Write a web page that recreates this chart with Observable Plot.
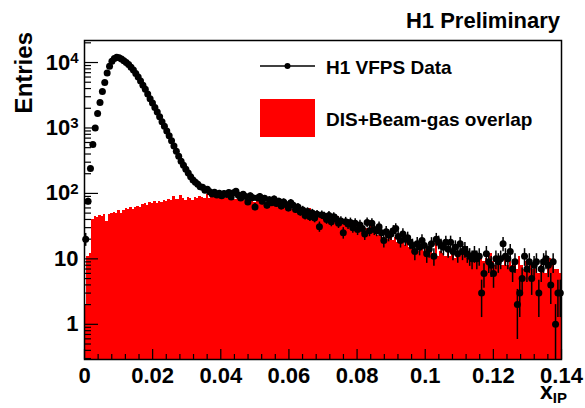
<!DOCTYPE html>
<html><head><meta charset="utf-8">
<script src="https://cdn.jsdelivr.net/npm/d3@7"></script>
<script src="https://cdn.jsdelivr.net/npm/@observablehq/plot@0.6"></script>
<style>
html,body{margin:0;padding:0;background:#fff;}
#chart{width:585px;height:408px;overflow:hidden;}
</style></head><body><div id="chart"></div>
<script>
// ---- data ----
const binWidth = 0.0007;
const dataCounts = [
 20, 76, 240, 560, 1000, 1660, 2450, 3600, 4950, 6900,
 8800, 10500, 11500, 12000, 11800, 11300, 10600, 10000, 9300, 8500,
 7700, 6800, 6000, 5200, 4500, 3900, 3300, 2800, 2400, 2050,
 1750, 1480, 1250, 1060, 900, 760, 640, 530, 440, 370,
 310, 270, 235, 205, 180, 160, 148, 138, 126, 124,
 112, 116, 106, 98, 104, 95, 101, 92, 100, 96,
 103, 88, 102, 108, 94, 85, 97, 90, 74, 92,
 86, 62, 85, 90, 76, 84, 66, 80, 72, 82,
 70, 76, 64, 74, 68, 60, 72, 66, 57, 62,
 52, 56, 46, 53, 44, 50, 42, 48, 31, 47,
 45, 40, 46, 37, 44, 41, 35, 38, 25, 37,
 34, 36, 30, 35, 28, 33, 29, 24, 36, 27,
 35, 28, 27, 31, 25, 19, 26, 23, 24, 27,
 29, 22, 19, 24, 20, 21, 18, 16, 13, 17,
 15, 19, 16, 12, 14, 17, 11, 20, 18, 16,
 15, 18, 14, 18, 13, 15, 12, 17, 13, 14,
 12, 11, 10, 12, 10, 11, 3, 6, 12, 9,
 8, 6, 10, 9, 10, 17, 11, 10, 13, 7,
 9, 2, 3, 5, 11, 7, 9, 5, 8, 9,
 3, 7, 9, 10, 8, 4, 9, 1, 3, 3
];
const mcCounts = [
 2, 11, 12, 40, 44, 43, 46, 45, 48, 37,
 47, 49, 52, 50, 55, 49, 54, 58, 56, 62,
 57, 60, 64, 61, 68, 70, 66, 72, 69, 74,
 70, 76, 73, 78, 75, 80, 77, 90, 82, 80,
 92, 84, 79, 88, 85, 78, 87, 83, 90, 86,
 84, 95, 85, 92, 87, 84, 90, 86, 93, 83,
 87, 82, 80, 80, 84, 78, 86, 77, 80, 75,
 78, 73, 76, 75, 74, 69, 72, 72, 70, 65,
 68, 63, 66, 61, 64, 64, 62, 57, 60, 55,
 57, 53, 55, 51, 58, 49, 51, 47, 49, 45,
 47, 48, 45, 41, 43, 39, 45, 37, 39, 35,
 37, 33, 35, 36, 33, 29, 31, 27, 29, 26,
 33, 24, 26, 23, 25, 21, 23, 20, 26, 19,
 21, 18, 17, 19, 16, 22, 15, 17, 14, 16,
 13, 15, 13, 14, 12, 14, 12, 17, 11, 13,
 12, 11, 13, 11, 12, 10, 12, 11, 14, 12,
 10, 11, 9, 11, 10, 9, 11, 9, 10, 8,
 12, 9, 8, 10, 9, 8, 10, 8, 9, 8,
 9, 7, 11, 8, 7, 9, 7, 8, 7, 8,
 6, 8, 7, 6, 8, 10, 8, 7, 7, 6
];
const xTickValues = [0, 0.02, 0.04, 0.06, 0.08, 0.1, 0.12, 0.14];
const yTickValues = [1, 10, 100, 1000, 10000];
const xDomain = [0, 0.14];
const yDomain = [0.29, 21700];
const legendLabels = ["H1 VFPS Data", "DIS+Beam-gas overlap"];
const titleText = "H1 Preliminary";
const yTitle = "Entries";
const xTitleMain = "x";
const xTitleSub = "IP";

// ---- derived table ----
const bins = dataCounts.map((n, i) => ({
  x0: i * binWidth, x1: (i + 1) * binWidth, xc: (i + 0.5) * binWidth,
  n, mc: mcCounts[i],
  lo: Math.max(n - Math.sqrt(n), yDomain[0]), hi: n + Math.sqrt(n)
}));
const xMinor = d3.range(0, 36).filter(k => k % 5 !== 0).map(k => k * 0.004);
const yMinor = [];
for (let e = -1; e <= 4; e++) for (let k = 2; k <= 9; k++) {
  const v = k * Math.pow(10, e);
  if (v >= yDomain[0] && v <= yDomain[1]) yMinor.push(v);
}

const W = 585, H = 408, mL = 84, mR = 24, mT = 40, mB = 49;
const fw = W - mL - mR, fh = H - mT - mB;
const FONT = "'Liberation Sans', Arial, Helvetica, sans-serif";

const chart = Plot.plot({
  width: W, height: H,
  marginLeft: mL, marginRight: mR, marginTop: mT, marginBottom: mB,
  x: {domain: xDomain},
  y: {type: "log", domain: yDomain},
  style: {fontFamily: FONT, background: "white", color: "black"},
  marks: [
    Plot.rect(bins, {x1: "x0", x2: "x1", y1: () => yDomain[0], y2: "mc", fill: "#ff0000", shapeRendering: "crispEdges"}),
    Plot.ruleX(xTickValues, {x: d => d, insetTop: fh - 10, stroke: "black", strokeWidth: 1.2}),
    Plot.ruleX(xMinor, {x: d => d, insetTop: fh - 5, stroke: "black", strokeWidth: 1.2}),
    Plot.ruleY(yTickValues, {y: d => d, insetRight: fw - 14, stroke: "black", strokeWidth: 1.2}),
    Plot.ruleY(yMinor, {y: d => d, insetRight: fw - 7, stroke: "black", strokeWidth: 1.2}),
    Plot.ruleX(bins, {x: "xc", y1: "lo", y2: "hi", stroke: "black", strokeWidth: 1.5}),
    Plot.dot(bins, {x: "xc", y: "n", r: 3.5, fill: "black", stroke: "none"}),
    Plot.frame({stroke: "black", strokeWidth: 1.5}),
    Plot.axisX(xTickValues, {tickSize: 0, tickPadding: 8, fontSize: 22, fontWeight: "bold", label: null,
      tickFormat: d => d === 0 ? "0" : String(+d.toFixed(2))}),
    Plot.axisY(yTickValues, {tickSize: 0, tickPadding: 6, fontSize: 22, fontWeight: "bold", label: null,
      tickFormat: d => d < 100 ? String(d) : "10^" + Math.round(Math.log10(d))})
  ]
});
document.getElementById("chart").appendChild(chart);

const svg = d3.select(chart);
// superscript exponents on y tick labels
svg.selectAll('g[aria-label="y-axis tick label"] text').each(function() {
  const t = d3.select(this);
  const s = t.text();
  if (s.includes("^")) {
    const [base, exp] = s.split("^");
    t.text(null);
    t.append("tspan").text(base);
    t.append("tspan").attr("dy", "-0.45em").attr("font-size", 15).text(exp);
  }
});

function txt(sel) {
  return sel.append("text").attr("font-family", FONT).attr("font-weight", "bold").attr("fill", "black");
}
// title
txt(svg).attr("x", 560).attr("y", 28).attr("text-anchor", "end").attr("font-size", 22).text(titleText);
// y title
txt(svg).attr("transform", "translate(32,32) rotate(-90)").attr("text-anchor", "end")
  .attr("font-size", 24).text(yTitle);
// x title
const xt = txt(svg).attr("x", 567).attr("y", 399).attr("text-anchor", "end").attr("font-size", 23);
xt.append("tspan").text(xTitleMain);
xt.append("tspan").attr("dy", 4).attr("font-size", 15).text(xTitleSub);

// legend
const lg = svg.append("g");
lg.append("line").attr("x1", 260).attr("x2", 315).attr("y1", 66).attr("y2", 66).attr("stroke", "black").attr("stroke-width", 1.5);
lg.append("circle").attr("cx", 287.5).attr("cy", 66).attr("r", 3).attr("fill", "black");
txt(lg).attr("x", 326).attr("y", 67).attr("dy", "0.35em").attr("text-anchor", "start")
  .attr("font-size", 19).text(legendLabels[0]);
lg.append("rect").attr("x", 260).attr("y", 99).attr("width", 55).attr("height", 38).attr("fill", "#ff0000");
txt(lg).attr("x", 326).attr("y", 119).attr("dy", "0.35em").attr("text-anchor", "start")
  .attr("font-size", 19).text(legendLabels[1]);
</script></body></html>
